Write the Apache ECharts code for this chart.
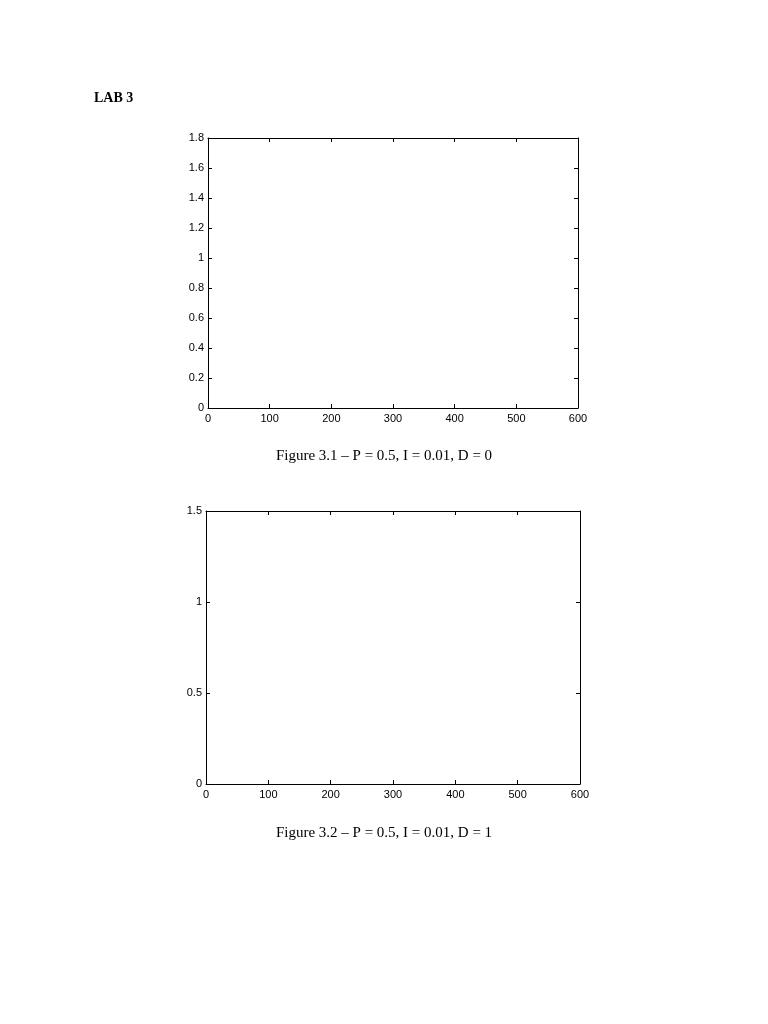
<!DOCTYPE html>
<html><head><meta charset="utf-8">
<script src="https://cdn.jsdelivr.net/npm/echarts@6/dist/echarts.min.js"></script>
<style>html,body{margin:0;padding:0;background:#fff}#c{width:768px;height:1024px}</style>
</head><body><div id="c"></div>
<script>
// Data (both figures are empty in the reference)
const xTicks = [0, 100, 200, 300, 400, 500, 600];
const y1Ticks = [0, 0.2, 0.4, 0.6, 0.8, 1, 1.2, 1.4, 1.6, 1.8];
const y2Ticks = [0, 0.5, 1, 1.5];
const series1 = [];
const series2 = [];
const pageTitle = 'LAB 3';
const caption1 = 'Figure 3.1 \u2013 P = 0.5, I = 0.01, D = 0';
const caption2 = 'Figure 3.2 \u2013 P = 0.5, I = 0.01, D = 1';

const chart = echarts.init(document.getElementById('c'), null, {renderer: 'canvas'});
const lab = {color: '#000', fontSize: 11, fontFamily: '"Liberation Sans", Arial, sans-serif'};
const line = {show: true, onZero: false, lineStyle: {color: '#000', width: 1}};
const tick = {show: true, inside: true, length: 4, lineStyle: {color: '#000', width: 1}};

function xAx(grid, pos, showLabel) {
  return {type: 'value', gridIndex: grid, position: pos, min: xTicks[0], max: xTicks[xTicks.length - 1], interval: 100,
    axisLine: line, axisTick: tick, splitLine: {show: false},
    axisLabel: Object.assign({show: showLabel, margin: 5}, lab)};
}
function yAx(grid, pos, showLabel, ticks, interval) {
  return {type: 'value', gridIndex: grid, position: pos, min: ticks[0], max: ticks[ticks.length - 1], interval: interval,
    axisLine: line, axisTick: tick, splitLine: {show: false},
    axisLabel: Object.assign({show: showLabel, margin: 4}, lab)};
}
const capStyle = {fontFamily: '"Liberation Serif", "Times New Roman", serif', fontWeight: 'normal', fontSize: 15, color: '#000'};

chart.setOption({
  animation: false,
  backgroundColor: '#fff',
  title: [
    {text: pageTitle, left: 89, top: 86, textStyle: {fontFamily: '"Liberation Serif", "Times New Roman", serif', fontWeight: 'bold', fontSize: 14, color: '#000'}},
    {text: caption1, left: 'center', top: 444, textStyle: capStyle},
    {text: caption2, left: 'center', top: 821, textStyle: capStyle}
  ],
  grid: [
    {left: 208, top: 138, width: 370, height: 270, show: false},
    {left: 206, top: 511, width: 374, height: 273, show: false}
  ],
  xAxis: [xAx(0, 'bottom', true), xAx(0, 'top', false), xAx(1, 'bottom', true), xAx(1, 'top', false)],
  yAxis: [yAx(0, 'left', true, y1Ticks, 0.2), yAx(0, 'right', false, y1Ticks, 0.2),
          yAx(1, 'left', true, y2Ticks, 0.5), yAx(1, 'right', false, y2Ticks, 0.5)],
  series: [
    {type: 'line', xAxisIndex: 0, yAxisIndex: 0, data: series1, symbol: 'none', lineStyle: {color: '#00f'}},
    {type: 'line', xAxisIndex: 2, yAxisIndex: 2, data: series2, symbol: 'none', lineStyle: {color: '#00f'}}
  ]
});
</script></body></html>
